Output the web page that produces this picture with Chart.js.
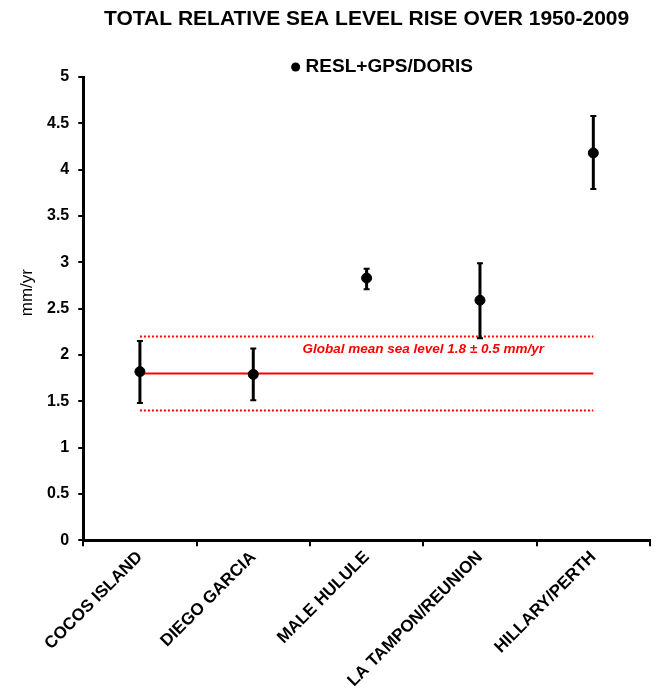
<!DOCTYPE html>
<html>
<head>
<meta charset="utf-8">
<script src="https://cdn.jsdelivr.net/npm/chart.js@4.4.1/dist/chart.umd.min.js"></script>
<style>
  html, body { margin: 0; padding: 0; background: #ffffff; }
  #wrap { width: 657px; height: 697px; position: relative; }
</style>
</head>
<body>
<div id="wrap"><canvas id="c" width="657" height="697"></canvas></div>
<script>
const chartTitle = 'TOTAL RELATIVE SEA LEVEL RISE OVER 1950-2009';
const seriesName = 'RESL+GPS/DORIS';
const yAxisTitle = 'mm/yr';
const annotationText = 'Global mean sea level 1.8 \u00b1 0.5 mm/yr';
const categories = ['COCOS ISLAND', 'DIEGO GARCIA', 'MALE HULULE', 'LA TAMPON/REUNION', 'HILLARY/PERTH'];
const rates = [1.82, 1.79, 2.83, 2.59, 4.18];
const lowerBounds = [1.48, 1.51, 2.71, 2.18, 3.79];
const upperBounds = [2.15, 2.07, 2.93, 2.99, 4.58];
const globalMean = [1.8, 1.8, 1.8, 1.8, 1.8];
const globalUpper = [2.2, 2.2, 2.2, 2.2, 2.2];
const globalLower = [1.4, 1.4, 1.4, 1.4, 1.4];
const yTicks = ['0', '0.5', '1', '1.5', '2', '2.5', '3', '3.5', '4', '4.5', '5'];

const FONT = '"Liberation Sans", Arial, sans-serif';

const errorBarPlugin = {
  id: 'errorBars',
  afterDatasetDraw(chart, args) {
    if (args.index !== 0) return;
    const ctx = chart.ctx;
    const xs = chart.scales.x, ys = chart.scales.y;
    ctx.save();
    ctx.strokeStyle = '#000';
    ctx.lineCap = 'butt';
    for (let i = 0; i < categories.length; i++) {
      const x = xs.getPixelForValue(i);
      const yt = ys.getPixelForValue(upperBounds[i]);
      const yb = ys.getPixelForValue(lowerBounds[i]);
      ctx.lineWidth = 3;
      ctx.beginPath();
      ctx.moveTo(x, yt); ctx.lineTo(x, yb);
      ctx.stroke();
      ctx.lineWidth = 2;
      ctx.beginPath();
      ctx.moveTo(x - 3, yt); ctx.lineTo(x + 3, yt);
      ctx.moveTo(x - 3, yb); ctx.lineTo(x + 3, yb);
      ctx.stroke();
    }
    ctx.restore();
  }
};

const textPlugin = {
  id: 'texts',
  afterDraw(chart) {
    const ctx = chart.ctx;
    const area = chart.chartArea;
    const xs = chart.scales.x, ys = chart.scales.y;
    ctx.save();
    ctx.fillStyle = '#000';
    ctx.textBaseline = 'middle';
    // title
    ctx.font = 'bold 21px ' + FONT;
    ctx.textAlign = 'center';
    const cx = (area.left + area.right) / 2;
    ctx.fillText(chartTitle, cx, 19);
    // legend
    ctx.font = 'bold 19px ' + FONT;
    ctx.textAlign = 'left';
    const lx = cx - 71;
    ctx.beginPath();
    ctx.arc(lx, 67, 4.5, 0, Math.PI * 2);
    ctx.fill();
    ctx.fillText(seriesName, lx + 10, 67);
    // y axis title
    ctx.save();
    ctx.translate(27, (area.top + area.bottom) / 2 - 16);
    ctx.rotate(-Math.PI / 2);
    ctx.textAlign = 'center';
    ctx.font = '17px ' + FONT;
    ctx.fillText(yAxisTitle, 0, 0);
    ctx.restore();
    // annotation
    ctx.fillStyle = '#ff0000';
    ctx.font = 'italic bold 13.5px ' + FONT;
    ctx.textAlign = 'center';
    ctx.fillText(annotationText, xs.getPixelForValue(2.5), ys.getPixelForValue(globalUpper[0]) + 13);
    ctx.restore();
  }
};

new Chart(document.getElementById('c'), {
  type: 'line',
  data: {
    labels: categories,
    datasets: [
      {
        label: seriesName,
        data: rates,
        showLine: false,
        pointRadius: 5,
        pointHoverRadius: 5,
        pointBackgroundColor: '#000',
        pointBorderColor: '#000',
        borderColor: '#000'
      },
      {
        label: 'Global mean',
        data: globalMean,
        borderColor: '#ff0000',
        borderWidth: 2,
        pointRadius: 0,
        fill: false
      },
      {
        label: 'Upper',
        data: globalUpper,
        borderColor: '#ff0000',
        borderWidth: 2,
        borderDash: [2, 2],
        pointRadius: 0,
        fill: false
      },
      {
        label: 'Lower',
        data: globalLower,
        borderColor: '#ff0000',
        borderWidth: 2,
        borderDash: [2, 2],
        pointRadius: 0,
        fill: false
      }
    ]
  },
  options: {
    responsive: false,
    animation: false,
    devicePixelRatio: 1,
    layout: { padding: { left: 38, right: 7, top: 77, bottom: 5 } },
    plugins: {
      legend: { display: false },
      title: { display: false },
      tooltip: { enabled: false }
    },
    scales: {
      x: {
        type: 'category',
        offset: true,
        grid: { offset: true, drawOnChartArea: false, drawTicks: true, tickLength: 6, color: '#000', lineWidth: 2 },
        border: { color: '#000', width: 3 },
        ticks: {
          color: '#000',
          font: { family: FONT, size: 17, weight: 'bold' },
          maxRotation: 45,
          minRotation: 45,
          padding: 1
        }
      },
      y: {
        min: 0,
        max: 5,
        grid: { drawOnChartArea: false, drawTicks: true, tickLength: 5, color: '#000', lineWidth: 2 },
        border: { color: '#000', width: 3 },
        ticks: {
          stepSize: 0.5,
          color: '#000',
          padding: 9,
          font: { family: FONT, size: 16, weight: 'bold' },
          callback: (v, i) => yTicks[i]
        }
      }
    }
  },
  plugins: [errorBarPlugin, textPlugin]
});
</script>
</body>
</html>
